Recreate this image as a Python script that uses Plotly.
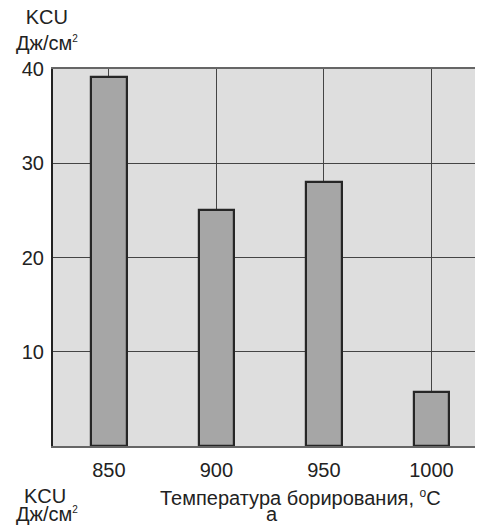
import plotly.graph_objects as go

categories = ["850", "900", "950", "1000"]
kcu_values = [39.1, 25.0, 28.0, 5.7]
y_tick_vals = [10, 20, 30, 40]
y_tick_text = ["10", "20", "30", "40"]

FONT = "Liberation Sans, Arial, sans-serif"
FS = 20

OFF = 8  # browser body margin
W, H = 483 - OFF, 525 - OFF
L, T, R, B = 53 - OFF, 69 - OFF, 0, 525 - 446
PW, PH = W - L - R, H - T - B

def px(x):
    return (x - OFF - L) / PW

def py(y):
    return (H - B - (y - OFF)) / PH

fig = go.Figure()
fig.add_trace(go.Bar(
    x=categories, y=kcu_values, width=0.33,
    marker=dict(color="#a6a6a6", line=dict(color="#262626", width=2.2)),
))

fig.update_layout(
    width=W, height=H,
    margin=dict(l=L, r=R, t=T, b=B, pad=0),
    paper_bgcolor="white", plot_bgcolor="#dedede",
    showlegend=False,
    font=dict(family=FONT, size=FS, color="#222"),
    bargap=0,
)
fig.update_xaxes(
    type="category", range=[-0.52, 3.48],
    showgrid=True, gridcolor="#444", gridwidth=1.3,
    showline=True, linecolor="#666", linewidth=2, mirror=True,
    ticks="", ticklabelstandoff=5,
    tickfont=dict(family=FONT, size=FS, color="#222"),
)
fig.update_yaxes(
    range=[0, 40], tickvals=y_tick_vals, ticktext=y_tick_text,
    showgrid=True, gridcolor="#444", gridwidth=1.3,
    showline=True, linecolor="#222", linewidth=2,
    ticks="", zeroline=False, ticklabelstandoff=3,
    tickfont=dict(family=FONT, size=FS, color="#222"),
)

SUP2 = "<sup><span style='font-size:10px'>2</span></sup>"
ann = [
    ("KCU<br>Дж/см" + SUP2, 47, 30),
    ("KCU", 45, 496),
    ("Дж/см" + SUP2, 47, 514),
    ("Температура борирования, <sup><span style='font-size:12px'>o</span></sup>C", 300, 497),
    ("а", 272, 514),
]
for text, x, y in ann:
    fig.add_annotation(
        text=text, x=px(x), y=py(y), xref="paper", yref="paper",
        xanchor="center", yanchor="middle", showarrow=False,
        borderpad=0,
        font=dict(family=FONT, size=FS, color="#222"),
    )

fig.write_html("out.html")
